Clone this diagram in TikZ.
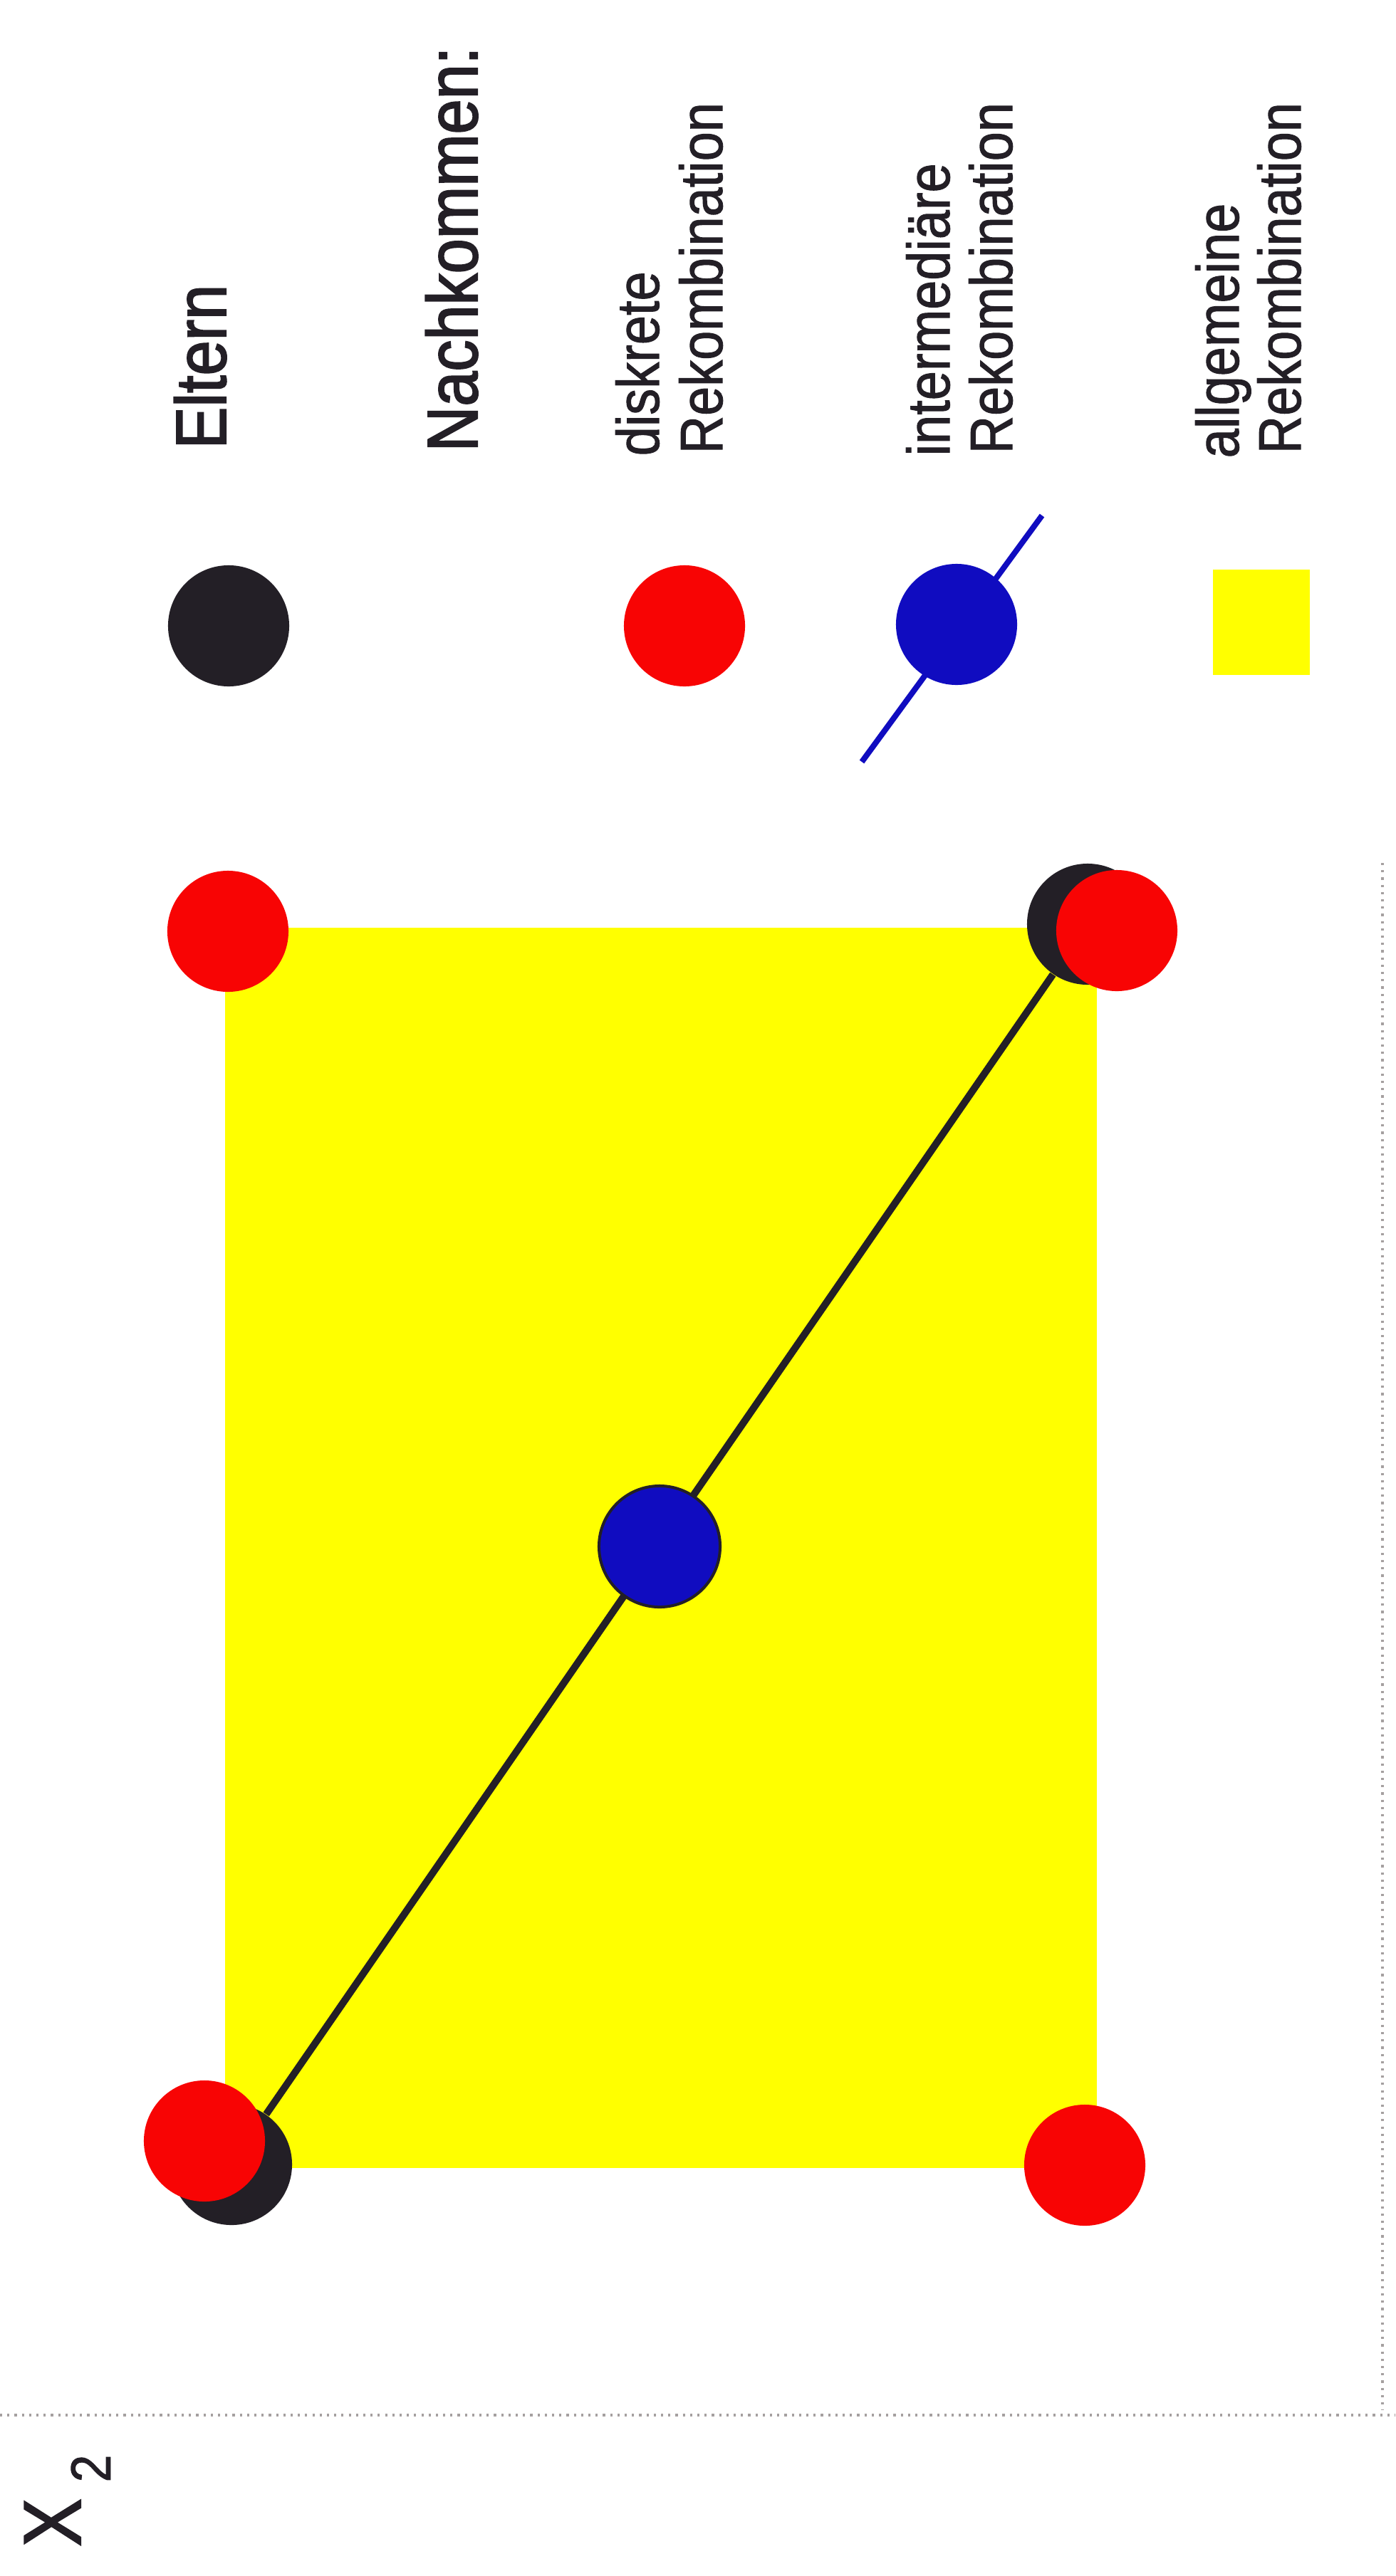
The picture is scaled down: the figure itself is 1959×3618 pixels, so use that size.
\documentclass[tikz,border=0pt]{standalone}
\usepackage{fontspec}
\setmainfont{Liberation Sans}
\newfontfamily\legfont[FakeStretch=0.88, FakeBold=1.2]{Liberation Sans}
\newfontfamily\headfont[FakeStretch=0.88, FakeBold=2]{Liberation Sans}
\usepackage{tikz}
\usetikzlibrary{backgrounds}
\definecolor{ParentBlack}{RGB}{35, 31, 38}
\definecolor{ChildRed}{RGB}{248, 4, 4}
\definecolor{InterBlue}{RGB}{16, 12, 192}
\definecolor{AreaYellow}{RGB}{255, 255, 0}
\definecolor{ScanGray}{RGB}{165, 160, 160}
\tikzset{
  dot/.style={circle, minimum size=1.7cm, inner sep=0pt},
  parent/.style={dot, fill=ParentBlack},
  kid/.style={dot, fill=ChildRed},
  icirc/.style={dot, fill=InterBlue},
  lbl/.style={rotate=90, anchor=base west, inner sep=0pt,
    font=\legfont\fontsize{23.9}{28}\selectfont, text=ParentBlack},
  biglbl/.style={lbl, font=\headfont\fontsize{28.5}{34}\selectfont},
  link/.style={line width=1mm, color=ParentBlack},
  blink/.style={line width=0.8mm, color=InterBlue},
  scan/.style={ScanGray, line width=0.9pt, dotted},
}

\begin{document}
\begin{tikzpicture}[x=0.01cm, y=-0.01cm]
  \useasboundingbox (0,0) rectangle (1959,3618);
  % parents, then the offspring on top
  \node[parent] (pA) at (325,3040) {};
  \node[parent] (pB) at (1527,1298) {};
  \foreach \n/\x/\y in {kA/287/3007, kB/1568/1307, kC/320/1308, kD/1523/3041}
    \node[kid] (\n) at (\x,\y) {};
  \node[icirc, draw=ParentBlack, line width=0.4mm] (im) at (926,2172) {};
  \begin{scope}[on background layer]
    \fill[AreaYellow] (316,1303) rectangle (1540,3045);
    \draw[link] (pA) -- (pB);
  \end{scope}
  % legend
  \node[parent] (lgEl) at (321,879) {};
  \node[kid] (lgDi) at (961,879) {};
  \coordinate (lnA) at (1210,1070);
  \coordinate (lnB) at (1463,724);
  \draw[blink] (lnA) -- (lnB);
  \node[icirc] (lgIm) at (1343,877) {};
  \node[fill=AreaYellow, minimum width=1.36cm, minimum height=1.48cm,
        inner sep=0pt] (lgAl) at (1771,874) {};
  \node[biglbl] (tEl) at (317,631) {Eltern};
  \node[biglbl] (tNa) at (670,635) {Nachkommen:};
  \node[lbl] (tDi1) at (925,641) {diskrete};
  \node[lbl] (tDi2) at (1014,638) {Rekombination};
  \node[lbl] (tIm1) at (1333,641) {intermediäre};
  \node[lbl] (tIm2) at (1421,638) {Rekombination};
  \node[lbl] (tAl1) at (1739,644) {allgemeine};
  \node[lbl] (tAl2) at (1826,638) {Rekombination};
  % axis label and scan edges
  \node[lbl, font=\headfont\fontsize{32.4}{38}\selectfont] (tX) at (113,3577) {X};
  \node[lbl, font=\legfont\fontsize{22.5}{26}\selectfont] (tSub) at (155,3487) {2};
  \coordinate (fr1) at (0,3392);
  \coordinate (fr2) at (1959,3392);
  \coordinate (fr3) at (1941,1212);
  \coordinate (fr4) at (1941,3385);
  \draw[scan] (fr1) -- (fr2);
  \draw[scan] (fr3) -- (fr4);
\end{tikzpicture}
\end{document}
